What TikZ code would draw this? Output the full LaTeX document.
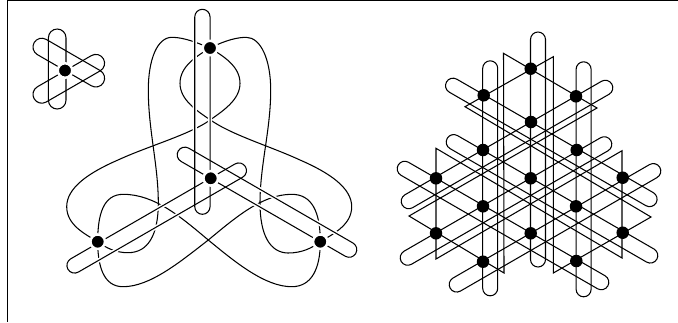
\documentclass[tikz,border=0pt]{standalone}
\usepackage{tikz}
\usetikzlibrary{positioning, calc}

\tikzset{
  pill/.style 2 args={draw, rectangle, inner sep=0pt, minimum width=#1*0.02cm, minimum height=#2*0.02cm, rounded corners=#2*0.01cm},
  halo/.style={draw=white, line width=2.4pt},
  dotmark/.style={circle, fill=black, inner sep=0pt, minimum size=#1*0.02cm},
  ringmark/.style={dotmark=#1, draw=white, line width=1.4pt}
}

\begin{document}
\begin{tikzpicture}[x=0.02cm, y=-0.02cm, line width=0.6pt]
  \useasboundingbox (0,0) rectangle (678,322);

  % Frame
  \coordinate (frameA) at (678,0.7);
  \coordinate (frameB) at (7.5,0.7);
  \coordinate (frameC) at (7.5,322);
  \draw[line width=0.8pt] (frameA) -- (frameB) -- (frameC);

  % Small figure
  \foreach \n/\x/\y/\r in {a/57.2/69/90, b/68.8/78.8/30, c/68.8/62.6/-30}
    \node[pill={80}{17.6}, rotate=\r] (small\n) at (\x,\y) {};
  \node[ringmark=14.5] (smalldot) at (65,70.5) {};

  % Big figure: the curve
  \coordinate (kT) at (210,48);
  \coordinate (kL) at (97.7,241.7);
  \coordinate (kR) at (320.3,241.7);
  \draw (kT) .. controls (200,44) and (185,37.3) .. (172,37.3) .. controls (157,37.3) and (148.3,60) .. (148.3,90)
    .. controls (148.3,130) and (158.3,165) .. (158.3,203) .. controls (158.3,235) and (148,252.7) .. (128,252.7)
    .. controls (116,252.7) and (106,248) .. (kL);
  \draw (kT) .. controls (218,44) and (233,37.3) .. (246,37.3) .. controls (261,37.3) and (270.7,60) .. (270.7,90)
    .. controls (270.7,130) and (260,165) .. (260,203) .. controls (260,235) and (270,252.7) .. (288,253)
    .. controls (302,253) and (312,248) .. (kR);
  \draw (kT) .. controls (197,56) and (180,66) .. (180,83.3) .. controls (180,100) and (197,111) .. (213,121.7)
    .. controls (235,136) and (272,147) .. (300,160) .. controls (330,173) and (351.7,188) .. (351.7,206.7)
    .. controls (351.7,225) and (333,234) .. (kR);
  \draw (kT) .. controls (223,56) and (240,66) .. (240,83.3) .. controls (240,100) and (223,111) .. (206.7,122.3)
    .. controls (185,136) and (146,147) .. (118,160) .. controls (88,173) and (66.7,188) .. (66.7,206.7)
    .. controls (66.7,225) and (85,234) .. (kL);
  \draw (kL) .. controls (97.7,265) and (103,286.7) .. (123,286.7) .. controls (150,286.7) and (180,262) .. (208.3,240)
    .. controls (235,218) and (262,194.3) .. (291.7,194.3) .. controls (312,194.3) and (320.3,212) .. (kR);
  \draw (kL) .. controls (97.7,215) and (103,194.3) .. (123.3,194.3) .. controls (155,194.3) and (182,218) .. (208.3,240)
    .. controls (235,262) and (265,286.7) .. (291.7,286.7) .. controls (312,286.7) and (320.3,268) .. (kR);

  % Big figure: pills, white first
  \foreach \n/\x/\y/\r in {a/202.4/111.8/90, b/156.7/218/30, c/267/202.2/-30}
    \node[pill={205}{15.3}, halo, rotate=\r] (halo\n) at (\x,\y) {};
  \foreach \n/\x/\y/\r in {a/202.4/111.8/90, b/156.7/218/30, c/267/202.2/-30}
    \node[pill={205}{15.3}, rotate=\r] (big\n) at (\x,\y) {};
  \foreach \n in {T,L,R}
    \node[ringmark=14.5] (dot\n) at (k\n) {};
  \node[ringmark=14.5] (dotM) at (210.7,178.3) {};

  % Lattice figure: pills
  \foreach \n/\x/\y in {a/490.2/178.3, b/538/149.5, c/583.6/179.3}
    \node[pill={235}{15}, rotate=90] (col\n) at (\x,\y) {};
  \foreach \n/\x/\y in {a/507/144.5, b/506/201, c/555/227.8}
    \node[pill={242}{15}, rotate=30] (rise\n) at (\x,\y) {};
  \foreach \n/\x/\y in {a/551.3/142.4, b/552/198.8, c/503/225.5}
    \node[pill={242}{15}, rotate=-30] (fall\n) at (\x,\y) {};

  % Lattice figure: three closed bows
  \draw[line join=miter] (503.5,53.3) -- (597,108) -- (409,216) -- (504,273) -- cycle;
  \draw[line join=miter] (553.3,56.7) -- (465,106.7) -- (651,217) -- (553.3,273) -- cycle;
  \draw[line join=miter] (436,148.3) -- (622,258) -- (622,150.7) -- (436,259) -- cycle;

  % Lattice figure: dots
  \foreach \n/\x/\y in {a/530.7/68.7, b/483.7/95.3, c/576/96.3, d/531/122, e/483/150, f/576.7/150,
      g/436/178.3, h/530.7/178.3, i/622.7/177.7, j/483/206.3, k/576/206.3,
      l/436/233.3, m/530.7/233.3, n/622.7/232.7, o/483/261.7, p/576.3/261}
    \node[dotmark=12.5] (lat\n) at (\x,\y) {};
\end{tikzpicture}
\end{document}
